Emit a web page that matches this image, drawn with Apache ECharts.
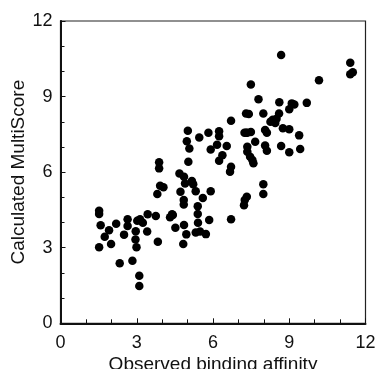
<!DOCTYPE html>
<html><head><meta charset="utf-8">
<script src="https://cdn.jsdelivr.net/npm/echarts@6/dist/echarts.min.js"></script>
<style>html,body{margin:0;padding:0;background:#fff}#c{width:377px;height:369px}</style>
</head><body><div id="c"></div>
<script>
const xTicks = [0, 3, 6, 9, 12];
const yTicks = [0, 3, 6, 9, 12];
const observed = [
  1.52,1.52,1.58,1.52,1.74,1.91,1.99,2.19,2.33,2.50,2.64,2.64,2.83,2.96,2.95,2.99,3.02,3.13,3.24,3.10,3.10,3.41,3.43,
  3.75,3.83,3.81,3.88,3.88,3.92,4.05,4.31,4.39,4.52,4.42,
  4.68,4.86,4.90,5.17,5.22,4.72,5.32,5.60,5.91,4.85,4.85,5.40,5.40,5.41,5.85,6.71,4.86,4.95,4.83,5.32,5.49,5.72,
  5.01,5.46,5.82,6.24,6.24,4.97,5.07,5.91,6.16,6.54,6.37,6.24,6.71,6.67,5.03,6.71,
  7.30,7.35,7.33,7.25,7.22,7.98,7.98,
  7.49,7.79,8.61,9.10,9.20,9.69,9.00,7.41,7.98,8.60,8.26,8.35,8.45,8.50,
  7.24,7.49,8.05,8.12,8.75,9.00,9.39,7.66,8.05,8.12,8.68,9.00,9.43,
  7.35,7.35,7.46,7.55,7.59,7.30,
  8.68,10.17,11.40,11.40,11.50
];
const calculated = [
  4.47,4.34,3.89,3.02,3.44,3.69,3.15,3.95,2.38,3.52,4.13,3.86,2.48,3.65,3.33,3.02,4.07,4.13,3.99,1.89,1.48,3.64,4.33,
  4.26,3.24,5.13,6.39,6.15,5.46,5.40,4.21,4.33,3.79,4.30,
  5.95,5.82,5.55,5.65,5.52,5.22,5.24,4.97,5.24,4.89,4.72,4.65,4.34,3.99,4.10,4.13,3.90,3.53,3.15,3.60,3.64,3.54,
  7.64,7.38,7.56,7.62,7.43,7.23,6.94,6.90,7.09,7.04,6.67,6.45,6.21,6.02,6.41,8.04,
  8.33,7.56,5.02,4.89,4.69,5.52,5.13,
  9.48,8.89,8.77,8.73,8.69,8.75,8.50,8.31,8.33,8.33,8.00,8.08,7.95,8.12,
  7.56,7.59,7.67,7.56,7.74,7.70,7.46,7.21,7.06,6.85,7.04,6.79,6.92,
  7.01,6.81,6.61,6.48,6.35,7.56,
  10.65,9.65,10.34,9.89,9.97
];
const points = observed.map((x, i) => [x, calculated[i]]);
const font = '"Liberation Sans", Arial, sans-serif';
const chart = echarts.init(document.getElementById('c'), null, {renderer: 'canvas'});
chart.setOption({
  animation: false,
  grid: {left: 60.5, right: 11.5, top: 21, bottom: 45.7, containLabel: false, outerBoundsMode: 'none',
    show: true, borderColor: '#222', borderWidth: 1.2, backgroundColor: 'transparent'},
  xAxis: {
    type: 'value', min: xTicks[0], max: xTicks[xTicks.length - 1], interval: 3,
    name: 'Observed binding affinity', nameLocation: 'middle', nameGap: 32, nameMoveOverlap: false,
    nameTextStyle: {fontFamily: font, fontSize: 19, color: '#111'},
    axisLine: {show: true, onZero: false, lineStyle: {color: '#111', width: 2}},
    axisTick: {show: true, inside: true, length: 5, lineStyle: {color: '#111', width: 1}},
    minorTick: {show: true, splitNumber: 3, length: 4, lineStyle: {color: '#111', width: 1}},
    axisLabel: {fontFamily: font, fontSize: 18, color: '#111', margin: 11},
    splitLine: {show: false}
  },
  yAxis: {
    type: 'value', min: yTicks[0], max: yTicks[yTicks.length - 1], interval: 3,
    name: 'Calculated MultiScore', nameLocation: 'middle', nameGap: 32, nameMoveOverlap: false,
    nameTextStyle: {fontFamily: font, fontSize: 19, color: '#111'},
    axisLine: {show: true, onZero: false, lineStyle: {color: '#111', width: 2}},
    axisTick: {show: true, inside: true, length: 5, lineStyle: {color: '#111', width: 1}},
    minorTick: {show: true, splitNumber: 3, length: 4, lineStyle: {color: '#111', width: 1}},
    axisLabel: {fontFamily: font, fontSize: 18, color: '#111', margin: 8},
    splitLine: {show: false}
  },
  series: [{
    type: 'scatter', data: points, symbol: 'circle', symbolSize: 8.5,
    itemStyle: {color: '#000', opacity: 1}
  }]
});
</script></body></html>
